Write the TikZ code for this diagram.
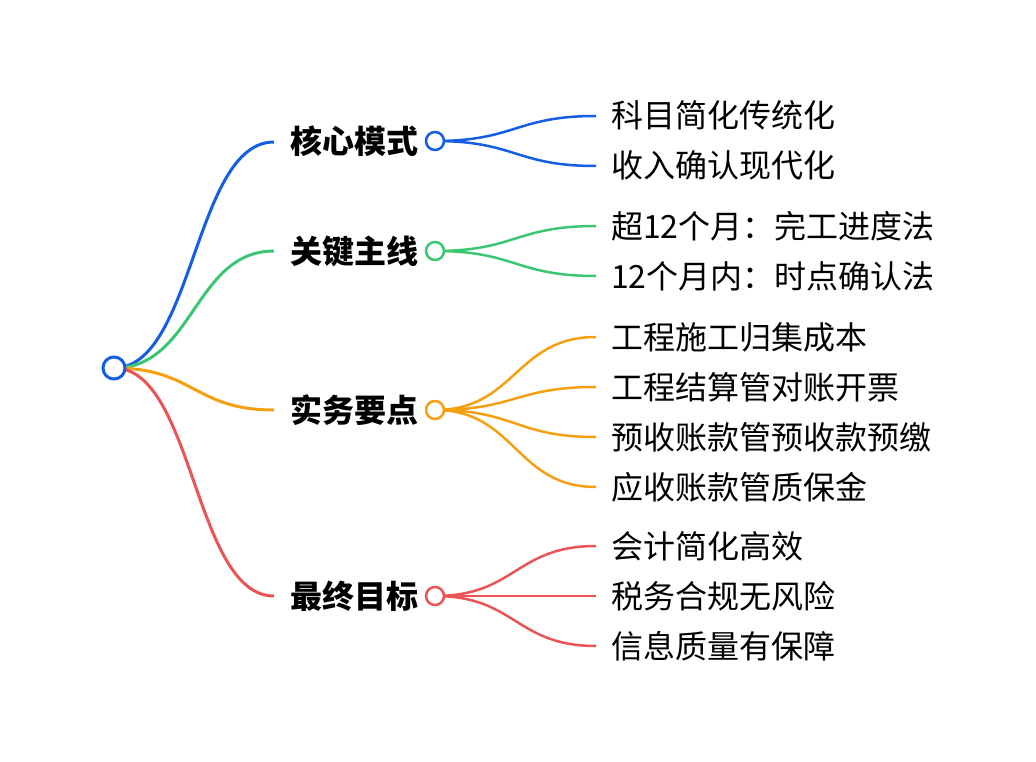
\documentclass[tikz,border=0pt]{standalone}
\usepackage{fontspec}
\setmainfont{Noto Sans CJK SC}
\usetikzlibrary{backgrounds,calc}
\definecolor{cblue}{RGB}{20,94,228}
\definecolor{cgreen}{RGB}{58,198,114}
\definecolor{corange}{RGB}{245,160,16}
\definecolor{cred}{RGB}{234,84,84}
\begin{document}
\begin{tikzpicture}[x=1pt,y=-1pt,
  rootc/.style={circle,draw=cblue,line width=3pt,fill=white,minimum size=22pt,inner sep=0pt},
  dot/.style={circle,draw=#1,line width=2.5pt,fill=white,minimum size=18pt,inner sep=0pt},
  blabel/.style={anchor=west,inner xsep=16pt,inner ysep=0pt,font=\fontsize{32}{36}\selectfont\bfseries,text height=28pt,text depth=4pt},
  leaf/.style={anchor=west,inner xsep=15pt,inner ysep=0pt,font=\fontsize{32}{36}\selectfont,text height=28pt,text depth=4pt},
  blink/.style={draw=#1,line width=3pt},
  llink/.style={draw=#1,line width=2.5pt}]
\useasboundingbox (0,0) rectangle (1036,762);
\node[rootc] (root) at (114,368) {};
% branch labels
\node[blabel] (k1) at (274,142) {核心模式};
\node[blabel] (k2) at (274,251) {关键主线};
\node[blabel] (k3) at (274,410) {实务要点};
\node[blabel] (k4) at (274,596) {最终目标};
\node[dot=cblue] (c1) at (435,141) {};
\node[dot=cgreen] (c2) at (435,251) {};
\node[dot=corange] (c3) at (435,410) {};
\node[dot=cred] (c4) at (435,596) {};
% leaves
\node[leaf] (l11) at (596,116) {科目简化传统化};
\node[leaf] (l12) at (596,166) {收入确认现代化};
\node[leaf] (l21) at (596,226) {超12个月：完工进度法};
\node[leaf] (l22) at (596,276) {12个月内：时点确认法};
\node[leaf] (l31) at (596,337) {工程施工归集成本};
\node[leaf] (l32) at (596,387) {工程结算管对账开票};
\node[leaf] (l33) at (596,437) {预收账款管预收款预缴};
\node[leaf] (l34) at (596,487) {应收账款管质保金};
\node[leaf] (l41) at (596,546) {会计简化高效};
\node[leaf] (l42) at (596,596) {税务合规无风险};
\node[leaf] (l43) at (596,646) {信息质量有保障};
\begin{scope}[on background layer]
\path[blink=cblue]   (root.center) .. controls (194,368) and (194,142) .. (k1.west);
\path[blink=cgreen]  (root.center) .. controls (194,368) and (194,251) .. (k2.west);
\path[blink=corange] (root.center) .. controls (194,368) and (194,410) .. (k3.west);
\path[blink=cred]    (root.center) .. controls (194,368) and (194,596) .. (k4.west);
\foreach \c/\l/\col in {c1/l11/cblue,c1/l12/cblue,c2/l21/cgreen,c2/l22/cgreen,c3/l31/corange,c3/l32/corange,c3/l33/corange,c3/l34/corange,c4/l41/cred,c4/l42/cred,c4/l43/cred}{
  \coordinate (m) at ($(\c.center)!0.5!(\l.west)$);
  \path[llink=\col] (\c.center) .. controls (m |- \c.center) and (m |- \l.west) .. (\l.west);
}
\end{scope}
\end{tikzpicture}
\end{document}
